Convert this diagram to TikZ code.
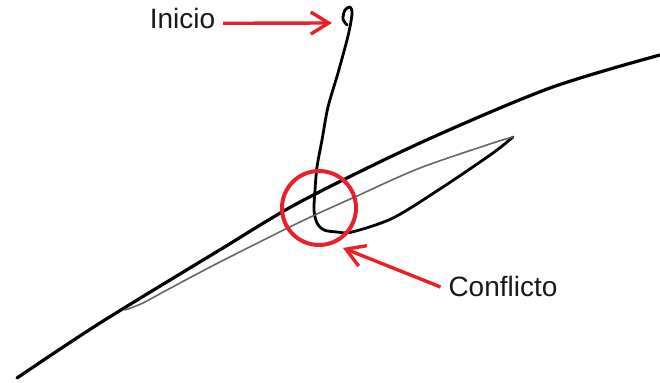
\documentclass[tikz,border=0pt]{standalone}
\usepackage{fontspec}
\setmainfont{Liberation Sans}
\usetikzlibrary{arrows.meta,positioning}
\definecolor{markred}{RGB}{232,32,40}
\tikzset{
	lbl/.style={inner sep=0pt, outer sep=4pt, font=\fontsize{14}{16}\selectfont, text=black!90},
	redarr/.style={-{Straight Barb[length=9pt, width=11pt]}, draw=markred, line width=1.7pt},
	zone/.style={circle, draw=markred, line width=2pt, minimum size=37pt, inner sep=0pt},
	ink/.style={line width=1.4pt, line cap=round, line join=round},
	inkthin/.style={line width=0.8pt, draw=black!60, line cap=round, line join=round}
}
\begin{document}
\begin{tikzpicture}[x=0.5pt, y=-0.5pt]
	\useasboundingbox (0,0) rectangle (660,383);
	\draw[ink, line width=1.6pt] plot[smooth, tension=0.5] coordinates {(17,378) (100,323) (218,251) (300,202) (420,143) (550,88) (660,55)};
	\draw[ink] plot[smooth, tension=0.5] coordinates {(347,25) (343,19) (345,10) (350,7) (352,14) (348,36) (338,73) (328,107) (322,140) (317,167) (315,190) (314,210) (317,223) (324,230) (337,232) (352,232) (393,218) (443,187) (493,153) (513,137)};
	\draw[inkthin] plot[smooth, tension=0.5] coordinates {(513,137) (493,143) (420,168) (357,196) (300,222) (218,263) (167,290) (143,303) (125,310)};
	\node[zone] (zona) at (319,208) {};
	\coordinate (inicioPt) at (332,23);
	\coordinate (conflictoPt) at (343,248);
	\node[lbl, anchor=base] (inicio) at (182.5,28.3) {Inicio};
	\node[lbl, anchor=base] (conflicto) at (503,297) {Conflicto};
	\draw[redarr] ([yshift=-2.5pt]inicio.east) -- (inicioPt);
	\draw[redarr] (conflicto.west) -- (conflictoPt);
\end{tikzpicture}
\end{document}
